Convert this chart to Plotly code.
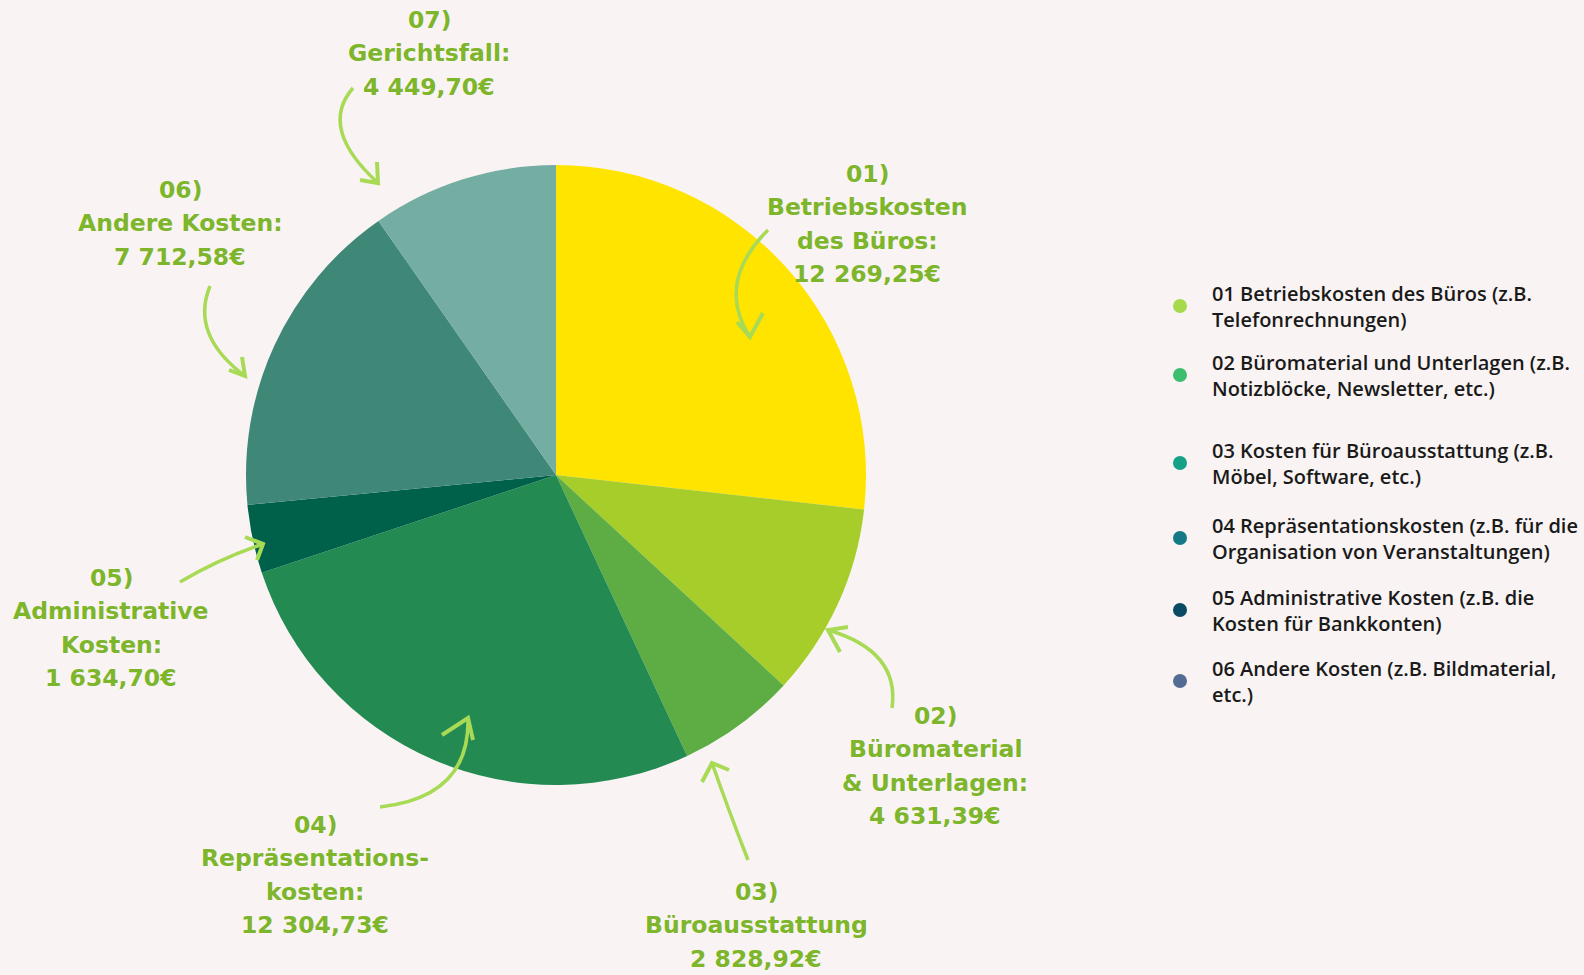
import plotly.graph_objects as go

# ---------------- data ----------------
categories = [
    "01 Betriebskosten des Büros",
    "02 Büromaterial & Unterlagen",
    "03 Büroausstattung",
    "04 Repräsentationskosten",
    "05 Administrative Kosten",
    "06 Andere Kosten",
    "07 Gerichtsfall",
]
values = [12269.25, 4631.39, 2828.92, 12304.73, 1634.70, 7712.58, 4449.70]
slice_colors = ["#FFE400", "#A6CD2A", "#5DAD44", "#238A51", "#00614A", "#3F8777", "#74ADA2"]
label_heads = [
    ["01)", "Betriebskosten", "des Büros:"],
    ["02)", "Büromaterial", "& Unterlagen:"],
    ["03)", "Büroausstattung"],
    ["04)", "Repräsentations-", "kosten:"],
    ["05)", "Administrative", "Kosten:"],
    ["06)", "Andere Kosten:"],
    ["07)", "Gerichtsfall:"],
]
legend_lines = [
    ["01 Betriebskosten des Büros (z.B.", "Telefonrechnungen)"],
    ["02 Büromaterial und Unterlagen (z.B.", "Notizblöcke, Newsletter, etc.)"],
    ["03 Kosten für Büroausstattung (z.B.", "Möbel, Software, etc.)"],
    ["04 Repräsentationskosten (z.B. für die", "Organisation von Veranstaltungen)"],
    ["05 Administrative Kosten (z.B. die", "Kosten für Bankkonten)"],
    ["06 Andere Kosten (z.B. Bildmaterial,", "etc.)"],
]
legend_colors = ["#A6DA4C", "#3DBE6E", "#16A085", "#157A86", "#0B4A63", "#546C94"]

# ---------------- layout / style ----------------
W, H = 1584, 975
BG = "#F9F4F3"
LABEL_COLOR = "#7DB52B"
ARROW_COLOR = "#A8DA55"
cx, cy, r = 556, 475, 310

def eur(v):
    return f"{v:,.2f}".replace(",", " ").replace(".", ",") + "€"

fig = go.Figure()
fig.add_trace(go.Pie(
    values=values, labels=categories, sort=False, direction="clockwise", rotation=0,
    marker=dict(colors=slice_colors, line=dict(width=0)),
    textinfo="none", showlegend=False, hoverinfo="label+value",
    domain=dict(x=[(cx - r) / W, (cx + r) / W], y=[(H - cy - r) / H, (H - cy + r) / H]),
))

# label positions (pixel centre x, first line y) and line step
label_pos = [(867, 174), (935, 716), (756, 892), (315, 825), (111, 578), (180, 190), (429, 20)]
step = 33.4
annotations = []
for head, v, (lx, ly) in zip(label_heads, values, label_pos):
    lines = head + [eur(v)]
    for i, t in enumerate(lines):
        annotations.append(dict(
            x=lx, y=ly + i * step, xref="x", yref="y", text=t, showarrow=False,
            xanchor="center", yanchor="middle",
            font=dict(family="DejaVu Sans", size=23.5, color=LABEL_COLOR, weight="bold"),
        ))

# legend
leg_dot_y = [306, 375, 463, 538, 610, 681]
leg_dot_x = 1180
leg_text_x = 1210
for lines, yy in zip(legend_lines, leg_dot_y):
    for i, t in enumerate(lines):
        annotations.append(dict(
            x=leg_text_x, y=yy - 13 + i * 26, xref="x", yref="y", text=t, showarrow=False,
            xanchor="left", yanchor="middle",
            font=dict(family="Open Sans", size=20, color="#1A1A1A", weight=600),
        ))
fig.add_trace(go.Scatter(
    x=[leg_dot_x] * len(legend_colors), y=leg_dot_y, mode="markers",
    marker=dict(size=14, color=legend_colors), showlegend=False, hoverinfo="skip",
))

# curved arrows: start, control, tip, head1, head2
arrows = [
    ((768, 230), (715, 283), (750, 337), (737, 322), (763, 313)),
    ((892, 708), (900, 651), (828, 630), (840, 652), (848, 627)),
    ((748, 860), (730, 814), (712, 763), (702, 782), (729, 770)),
    ((380, 807), (470, 797), (468, 718), (442, 735), (473, 740)),
    ((180, 582), (219, 559), (263, 544), (245, 537), (257, 560)),
    ((210, 286), (190, 335), (245, 376), (242, 357), (229, 370)),
    ((353, 88), (318, 128), (378, 183), (377, 162), (360, 180)),
]
shapes = []
for (s, c, t, h1, h2) in arrows:
    shapes.append(dict(
        type="path", xref="x", yref="y",
        path=f"M {s[0]} {s[1]} Q {c[0]} {c[1]} {t[0]} {t[1]}",
        line=dict(color=ARROW_COLOR, width=3.5),
    ))
    shapes.append(dict(
        type="path", xref="x", yref="y",
        path=f"M {h1[0]} {h1[1]} L {t[0]} {t[1]} L {h2[0]} {h2[1]}",
        line=dict(color=ARROW_COLOR, width=4),
    ))

fig.update_layout(
    width=W, height=H, autosize=False,
    margin=dict(l=0, r=0, t=0, b=0),
    paper_bgcolor=BG, plot_bgcolor="rgba(0,0,0,0)",
    xaxis=dict(range=[0, W], visible=False, domain=[0, 1], fixedrange=True),
    yaxis=dict(range=[H, 0], visible=False, domain=[0, 1], fixedrange=True),
    annotations=annotations, shapes=shapes, showlegend=False,
)

fig.write_html(
    "out.html",
    config={"displayModeBar": False},
    post_script="document.body.style.margin='0';document.body.style.background='%s';" % BG,
)
